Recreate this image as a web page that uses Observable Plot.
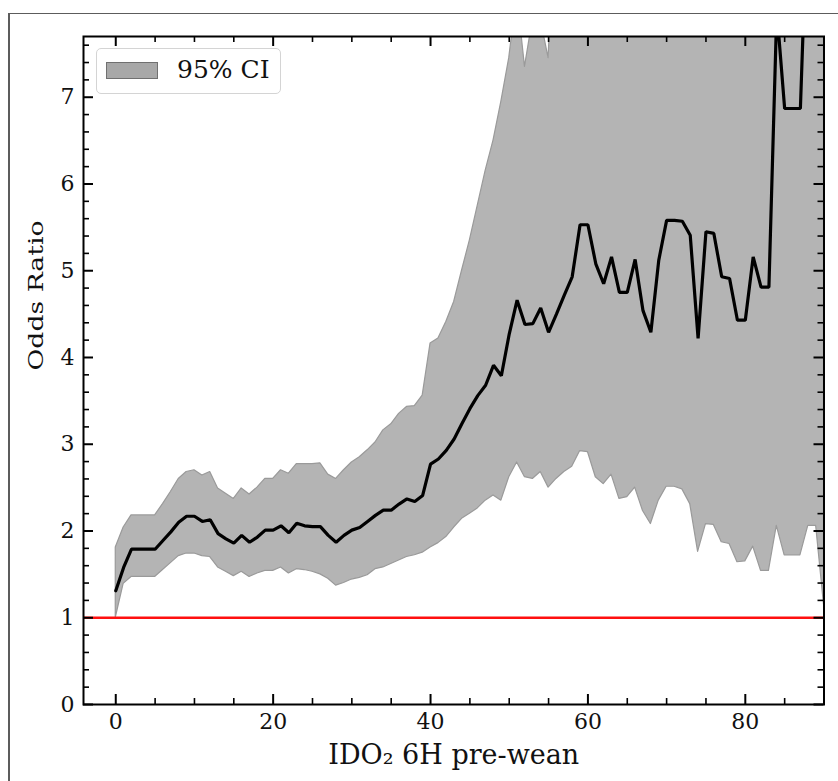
<!DOCTYPE html>
<html>
<head>
<meta charset="utf-8">
<script src="https://cdn.jsdelivr.net/npm/d3@7"></script>
<script src="https://cdn.jsdelivr.net/npm/@observablehq/plot@0.6"></script>
<style>
  html, body { margin: 0; padding: 0; background: #fff; overflow: hidden; }
  #wrap { position: relative; width: 838px; height: 781px; }
  #outer { position: absolute; left: 8px; top: 13px; width: 900px; height: 900px;
           border-left: 2px solid #5c5c5c; border-top: 1.5px solid #5c5c5c; }
  #legend { position: absolute; left: 96px; top: 48px; width: 183px; height: 44px;
            border: 1px solid #d4d4d4; border-radius: 5px; background: rgba(255,255,255,0.85); }
  #legend .patch { position: absolute; left: 9px; top: 13px; width: 50px; height: 15px;
                   background: #a8a8a8; border: 1px solid #707070; }
  #legend .lbl { position: absolute; left: 80px; top: 4px; font-family: "DejaVu Serif", serif;
                 font-size: 25px; line-height: 34px; color: #111; white-space: nowrap; }
</style>
</head>
<body>
<div id="wrap">
  <div id="outer"></div>
  <div id="chart"></div>
  <div id="legend"><div class="patch"></div><div class="lbl">95% CI</div></div>
</div>
<script>
// ---- data ----
const dose = [0,1,2,3,4,5,6,7,8,9,10,11,12,13,14,15,16,17,18,19,20,21,22,23,24,25,26,27,28,29,30,
  31,32,33,34,35,36,37,38,39,40,41,42,43,44,45,46,47,48,49,50,51,52,53,54,55,56,57,58,59,60,
  61,62,63,64,65,66,67,68,69,70,71,72,73,74,75,76,77,78,79,80,81,82,83,84,85,86,87,88,89,90];

const oddsRatio = [1.31,1.58,1.79,1.79,1.79,1.79,1.89,1.99,2.10,2.17,2.17,2.11,2.13,1.97,1.91,1.86,
  1.95,1.87,1.93,2.01,2.01,2.06,1.98,2.09,2.06,2.05,2.05,1.95,1.87,1.95,2.01,2.04,2.11,2.18,2.24,
  2.24,2.31,2.37,2.34,2.41,2.77,2.83,2.93,3.06,3.24,3.41,3.56,3.68,3.91,3.79,4.27,4.66,4.38,4.39,
  4.57,4.29,4.50,4.72,4.93,5.53,5.53,5.08,4.85,5.16,4.75,4.75,5.13,4.54,4.29,5.12,5.58,5.58,5.57,
  5.41,4.22,5.45,5.43,4.93,4.91,4.43,4.43,5.16,4.81,4.81,8.0,6.87,6.87,6.87,9.5,9.5,9.5];

const ciLower = [1.00,1.39,1.47,1.47,1.47,1.47,1.55,1.63,1.71,1.74,1.74,1.71,1.70,1.58,1.53,1.48,
  1.53,1.47,1.51,1.54,1.54,1.58,1.51,1.56,1.55,1.53,1.50,1.45,1.37,1.40,1.44,1.46,1.49,1.56,1.58,
  1.62,1.66,1.70,1.72,1.75,1.81,1.86,1.93,2.04,2.14,2.20,2.26,2.35,2.41,2.35,2.62,2.79,2.62,2.60,
  2.68,2.50,2.60,2.68,2.74,2.92,2.91,2.62,2.54,2.65,2.37,2.39,2.50,2.23,2.08,2.35,2.51,2.51,2.48,
  2.31,1.76,2.08,2.07,1.87,1.85,1.64,1.65,1.82,1.54,1.54,2.06,1.72,1.72,1.72,2.06,2.06,1.15];

const ciUpper = [1.81,2.04,2.18,2.18,2.18,2.18,2.31,2.45,2.60,2.68,2.70,2.64,2.68,2.49,2.43,2.37,
  2.49,2.42,2.50,2.60,2.60,2.70,2.66,2.77,2.77,2.77,2.78,2.65,2.60,2.70,2.79,2.85,2.93,3.02,3.16,
  3.23,3.35,3.43,3.44,3.56,4.16,4.22,4.41,4.64,5.00,5.35,5.75,6.15,6.50,6.95,7.45,8.2,7.35,7.9,
  7.9,7.45,9.5,9.5,9.5,9.5,9.5,9.5,9.5,9.5,9.5,9.5,9.5,9.5,9.5,9.5,9.5,9.5,9.5,9.5,9.5,9.5,9.5,
  9.5,9.5,9.5,9.5,9.5,9.5,9.5,9.5,9.5,9.5,9.5,9.5,9.5,9.5];

const xMajor = [0, 20, 40, 60, 80];
const xMinor = [5, 10, 15, 25, 30, 35, 45, 50, 55, 65, 70, 75, 85];
const yMajor = [0, 1, 2, 3, 4, 5, 6, 7];
const yMinor = d3.range(0, 7.7, 0.2).filter(v => Math.abs(v - Math.round(v)) > 0.05);

const xLabel = "IDO\u2082 6H pre-wean";
const yLabel = "Odds Ratio";

const data = dose.map((x, i) => ({x, or: oddsRatio[i], lo: ciLower[i], hi: ciUpper[i]}));

// ---- layout ----
const W = 838, H = 781;
const mL = 83, mT = 36, mR = 14.5, mB = 77;
const fh = H - mT - mB;
const fw = W - mL - mR;
const majLen = 10, minLen = 6;

const chart = Plot.plot({
  width: W, height: H,
  marginLeft: mL, marginTop: mT, marginRight: mR, marginBottom: mB,
  style: {fontFamily: "DejaVu Serif", background: "transparent", color: "#111"},
  x: {domain: [-4.1, 90], label: null},
  y: {domain: [0, 7.7], label: null},
  marks: [
    Plot.areaY(data, {x: "x", y1: "lo", y2: "hi", fill: "#b4b4b4", stroke: "#9a9a9a", strokeWidth: 1.2, clip: true}),
    Plot.ruleY([1], {stroke: "#ff1010", strokeWidth: 2.5}),
    Plot.line(data, {x: "x", y: "or", stroke: "#000", strokeWidth: 3.2, strokeLinejoin: "miter", clip: true}),
    // inward ticks, all four sides
    Plot.tickX(xMajor, {x: d => d, insetTop: fh - majLen, stroke: "#000", strokeWidth: 2}),
    Plot.tickX(xMajor, {x: d => d, insetBottom: fh - majLen, stroke: "#000", strokeWidth: 2}),
    Plot.tickX(xMinor, {x: d => d, insetTop: fh - minLen, stroke: "#000", strokeWidth: 1.6}),
    Plot.tickX(xMinor, {x: d => d, insetBottom: fh - minLen, stroke: "#000", strokeWidth: 1.6}),
    Plot.tickY(yMajor, {y: d => d, insetRight: fw - majLen, stroke: "#000", strokeWidth: 2}),
    Plot.tickY(yMajor, {y: d => d, insetLeft: fw - majLen, stroke: "#000", strokeWidth: 2}),
    Plot.tickY(yMinor, {y: d => d, insetRight: fw - minLen, stroke: "#000", strokeWidth: 1.6}),
    Plot.tickY(yMinor, {y: d => d, insetLeft: fw - minLen, stroke: "#000", strokeWidth: 1.6}),
    Plot.frame({stroke: "#000", strokeWidth: 2}),
    Plot.axisX(xMajor, {anchor: "bottom", tickSize: 0, tickPadding: 9, fontSize: 22, label: null, tickFormat: d => String(d)}),
    Plot.axisY(yMajor, {anchor: "left", tickSize: 0, tickPadding: 9, fontSize: 22, label: null, tickFormat: d => String(d)}),
    Plot.text([xLabel], {frameAnchor: "bottom", lineAnchor: "bottom", dy: 59, fontSize: 27, fill: "#111"}),
    Plot.text([yLabel], {frameAnchor: "left", rotate: -90, dx: -47, fontSize: 21, fill: "#111"})
  ]
});

chart.querySelectorAll("text").forEach(t => {
  if (t.textContent === yLabel) {
    t.setAttribute("textLength", 150);
    t.setAttribute("lengthAdjust", "spacingAndGlyphs");
  }
});

document.getElementById("chart").appendChild(chart);
</script>
</body>
</html>
